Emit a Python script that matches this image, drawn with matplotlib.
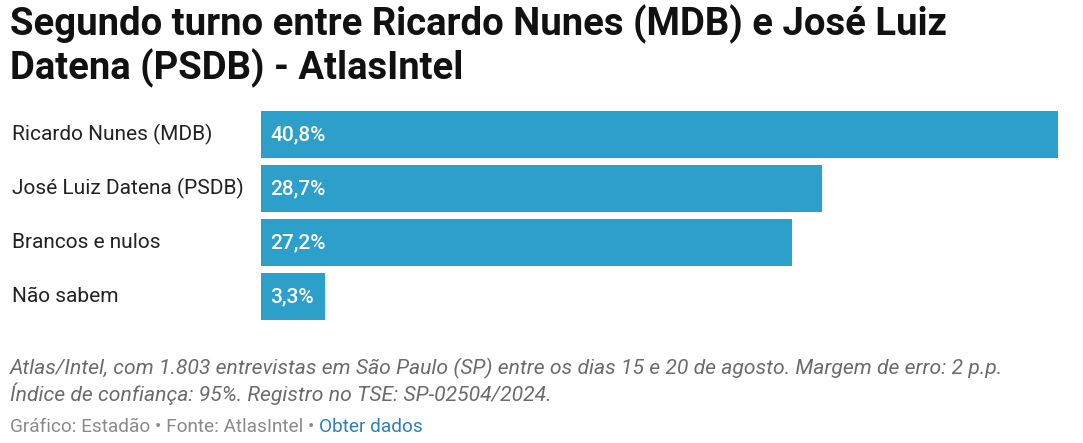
import matplotlib.pyplot as plt
import numpy as np

categories = ["Ricardo Nunes (MDB)", "José Luiz Datena (PSDB)", "Brancos e nulos", "Não sabem"]
values = [40.8, 28.7, 27.2, 3.3]
value_labels = ["40,8%", "28,7%", "27,2%", "3,3%"]

title = "Segundo turno entre Ricardo Nunes (MDB) e José Luiz\nDatena (PSDB) - AtlasIntel"
note = ("Atlas/Intel, com 1.803 entrevistas em São Paulo (SP) entre os dias 15 e 20 de agosto. Margem de erro: 2 p.p.\n"
        "Índice de confiança: 95%. Registro no TSE: SP-02504/2024.")
credit = "Gráfico: Estadão • Fonte: AtlasIntel • "
link = "Obter dados"

plt.rcParams['font.family'] = ['Roboto', 'DejaVu Sans']

W, H = 1083, 443
fig = plt.figure(figsize=(W / 100, H / 100), dpi=100)
fig.patch.set_facecolor('white')

bh = 47 / 54
ax = fig.add_axes([261 / W, 1 - 320 / H, 797 / W, 209 / H])
y = np.arange(len(categories))
ax.barh(y, values, height=bh, color='#2c9fcb')
ax.set_xlim(0, max(values))
ax.set_ylim(len(categories) - 1 + bh / 2, -bh / 2)
ax.axis('off')

for i, (cat, v, lab) in enumerate(zip(categories, values, value_labels)):
    ax.text(-249 / 797 * max(values), i, cat, ha='left', va='center',
            fontsize=15, color='#222222')
    ax.annotate(lab, xy=(0, i), xytext=(9, 0), textcoords='offset pixels',
                ha='left', va='center', fontsize=15, color='white', fontweight='medium')

fig.text(10 / W, 1 - 5 / H, title, ha='left', va='top', fontsize=27.5,
         fontweight='bold', color='#111111', linespacing=1.12)

fig.text(10 / W, 1 - 358 / H, note, ha='left', va='top', fontsize=15.2,
         style='italic', color='#6b6b6b', linespacing=1.2)

t1 = fig.text(10 / W, 1 - 432 / H, credit, ha='left', va='baseline', fontsize=13.7,
              color='#8a8a8a')
ax.annotate(link, xy=(1, 0), xycoords=t1, ha='left', va='bottom', fontsize=13.7,
            color='#2a7fbf', annotation_clip=False)

fig.savefig('out.png', dpi=100, facecolor='white')
